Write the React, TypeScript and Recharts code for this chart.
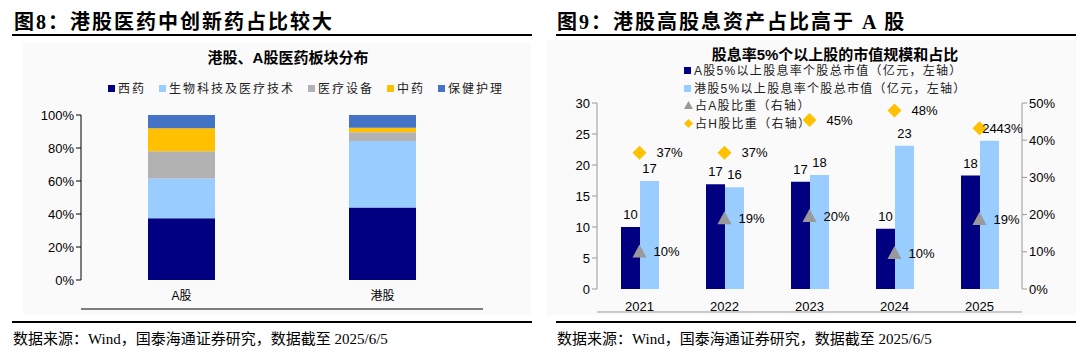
import {
  BarChart,
  ComposedChart,
  Bar,
  Line,
  XAxis,
  YAxis,
  LabelList,
} from "recharts";

// ---- left chart data (图8) ----
const leftCategories = ["A股", "港股"];
const xiYao = [37.5, 44.0];
const bioTech = [24.0, 40.2];
const equipment = [16.6, 5.3];
const tcm = [13.8, 2.8];
const healthCare = [8.1, 7.7];
const leftTicks = [0, 20, 40, 60, 80, 100];

// ---- right chart data (图9) ----
const years = ["2021", "2022", "2023", "2024", "2025"];
const aMarketValue = [10.0, 16.9, 17.3, 9.7, 18.3];
const hMarketValue = [17.4, 16.4, 18.4, 23.1, 23.9];
const aRatio = [10.1, 19.0, 19.6, 9.7, 18.8];
const hRatio = [36.6, 36.6, 45.4, 48.0, 43.2];
const leftAxisTicks = [0, 5, 10, 15, 20, 25, 30];
const rightAxisTicks = [0, 10, 20, 30, 40, 50];

const SANS = "'Liberation Sans', Arial, 'Noto Sans CJK SC', sans-serif";
const CJK = "'Noto Sans CJK SC', sans-serif";
const SERIF = "'Liberation Serif', 'Noto Sans CJK SC', serif";

const leftSeries = [
  { key: "西药", values: xiYao, color: "#000080" },
  { key: "生物科技及医疗技术", values: bioTech, color: "#99CCFF" },
  { key: "医疗设备", values: equipment, color: "#B2B2B2" },
  { key: "中药", values: tcm, color: "#FFC000" },
  { key: "保健护理", values: healthCare, color: "#4472C4" },
];

const leftData = leftCategories.map((name, i) => {
  const row: { [k: string]: string | number } = { name };
  leftSeries.forEach((s) => (row[s.key] = s.values[i]));
  return row;
});

const rightData = years.map((year, i) => ({
  year,
  a: aMarketValue[i],
  h: hMarketValue[i],
  aRatio: aRatio[i],
  hRatio: hRatio[i],
}));

// boundary tick positions (between categories)
const leftEdges = leftCategories.map((_, i) => i).concat(leftCategories.length);
const rightEdges = years.map((_, i) => i).concat(years.length);

// marker shapes
const TriangleDot = (props: any) => {
  const { cx, cy } = props;
  if (cx == null || cy == null) return null;
  return (
    <polygon
      points={`${cx},${cy - 7} ${cx - 7},${cy + 6} ${cx + 7},${cy + 6}`}
      fill="#999999"
    />
  );
};

const DiamondDot = (props: any) => {
  const { cx, cy } = props;
  if (cx == null || cy == null) return null;
  return (
    <polygon
      points={`${cx},${cy - 7} ${cx + 7},${cy} ${cx},${cy + 7} ${cx - 7},${cy}`}
      fill="#FFC000"
    />
  );
};

const pct = (v: any) => `${Math.round(Number(v))}%`;

function Header({ x, text }: { x: number; text: string }) {
  return (
    <div
      style={{
        position: "absolute",
        left: x,
        top: 6,
        fontFamily: SERIF,
        fontWeight: 700,
        fontSize: 20,
        letterSpacing: 2,
        color: "#000",
        whiteSpace: "nowrap",
      }}
    >
      {text}
    </div>
  );
}

function Rule({ x, y, w }: { x: number; y: number; w: number }) {
  return (
    <div
      style={{
        position: "absolute",
        left: x,
        top: y,
        width: w,
        height: 2,
        background: "#000",
      }}
    />
  );
}

function Source({ x }: { x: number }) {
  return (
    <div
      style={{
        position: "absolute",
        left: x,
        top: 327,
        fontFamily: SERIF,
        fontSize: 15,
        color: "#000",
        whiteSpace: "nowrap",
      }}
    >
      数据来源：Wind，国泰海通证券研究，数据截至 2025/6/5
    </div>
  );
}

function LegendSwatch({ color }: { color: string }) {
  return (
    <span
      style={{
        display: "inline-block",
        width: 7,
        height: 7,
        background: color,
        marginRight: 3,
        verticalAlign: "middle",
        position: "relative",
        top: -1,
      }}
    />
  );
}

export default function App() {
  return (
    <div
      style={{
        position: "absolute",
        left: 0,
        top: 0,
        width: 1080,
        height: 352,
        background: "#fff",
        overflow: "hidden",
      }}
    >
      {/* ---------- left panel ---------- */}
      <Header x={14} text="图8：港股医药中创新药占比较大" />
      <Rule x={12} y={34} w={520} />
      <div
        style={{
          position: "absolute",
          left: 23,
          top: 43,
          width: 508,
          height: 272,
          background: "#fafafa",
        }}
      />
      <div
        style={{
          position: "absolute",
          left: 188,
          top: 46,
          width: 200,
          textAlign: "center",
          fontFamily: SANS,
          fontWeight: 700,
          fontSize: 15,
          color: "#000",
        }}
      >
        港股、A股医药板块分布
      </div>
      <div
        style={{
          position: "absolute",
          left: 108,
          top: 79,
          fontFamily: CJK,
          fontSize: 12,
          letterSpacing: 2,
          color: "#222",
          whiteSpace: "nowrap",
          display: "flex",
          gap: 13,
        }}
      >
        {leftSeries.map((s) => (
          <span key={s.key}>
            <LegendSwatch color={s.color} />
            {s.key}
          </span>
        ))}
      </div>
      <div style={{ position: "absolute", left: 12, top: 40 }}>
        <BarChart
          width={520}
          height={275}
          data={leftData}
          margin={{ top: 75, right: 49, left: 19, bottom: 5 }}
          barSize={67}
        >
          <XAxis
            xAxisId="edges"
            type="number"
            dataKey="edge"
            domain={[0, leftCategories.length]}
            ticks={leftEdges}
            tick={false}
            tickLine={{ stroke: "#000" }}
            tickSize={5}
            axisLine={{ stroke: "#000" }}
            height={1}
          />
          <XAxis
            dataKey="name"
            axisLine={false}
            tickLine={false}
            tickMargin={5}
            height={29}
            tick={{ fontSize: 12, fill: "#000", fontFamily: SANS }}
          />
          <YAxis
            domain={[0, 100]}
            ticks={leftTicks}
            tickFormatter={(v) => `${v}%`}
            width={50}
            axisLine={{ stroke: "#000" }}
            tickLine={{ stroke: "#000" }}
            tickSize={5}
            tick={{ fontSize: 13, fill: "#000", fontFamily: SANS }}
          />
          {leftSeries.map((s) => (
            <Bar
              key={s.key}
              dataKey={s.key}
              stackId="a"
              fill={s.color}
              isAnimationActive={false}
            />
          ))}
        </BarChart>
      </div>
      <Rule x={12} y={321} w={520} />
      <Source x={13} />

      {/* ---------- right panel ---------- */}
      <Header x={557} text="图9：港股高股息资产占比高于 A 股" />
      <Rule x={556} y={34} w={520} />
      <div
        style={{
          position: "absolute",
          left: 546,
          top: 40,
          width: 530,
          height: 275,
          background: "#fafafa",
        }}
      />
      <div
        style={{
          position: "absolute",
          left: 685,
          top: 43,
          width: 300,
          textAlign: "center",
          fontFamily: SANS,
          fontWeight: 700,
          fontSize: 15,
          color: "#000",
        }}
      >
        股息率5%个以上股的市值规模和占比
      </div>
      <div
        style={{
          position: "absolute",
          left: 684,
          top: 63,
          fontFamily: SANS,
          fontSize: 12,
          letterSpacing: 1.3,
          lineHeight: "17.5px",
          color: "#222",
          whiteSpace: "nowrap",
        }}
      >
        <div>
          <LegendSwatch color="#000080" />
          A股5%以上股息率个股总市值（亿元，左轴）
        </div>
        <div>
          <LegendSwatch color="#99CCFF" />
          港股5%以上股息率个股总市值（亿元，左轴）
        </div>
        <div>
          <svg width={9} height={9} style={{ marginRight: 2 }}>
            <polygon points="4.5,0 0,8 9,8" fill="#999999" />
          </svg>
          占A股比重（右轴）
        </div>
        <div>
          <svg width={9} height={9} style={{ marginRight: 2 }}>
            <polygon points="4.5,0 9,4.5 4.5,9 0,4.5" fill="#FFC000" />
          </svg>
          占H股比重（右轴）
        </div>
      </div>
      <div style={{ position: "absolute", left: 556, top: 40 }}>
        <ComposedChart
          width={520}
          height={275}
          data={rightData}
          margin={{ top: 63, right: 4, left: 6, bottom: 2 }}
          barGap={0}
          barCategoryGap={23}
        >
          <XAxis
            xAxisId="edges"
            type="number"
            dataKey="edge"
            domain={[0, years.length]}
            ticks={rightEdges}
            tick={false}
            tickLine={{ stroke: "#999" }}
            tickSize={5}
            axisLine={{ stroke: "#999" }}
            height={1}
          />
          <XAxis
            dataKey="year"
            axisLine={false}
            tickLine={false}
            tickMargin={7}
            height={23}
            tick={{ fontSize: 13, fill: "#000", fontFamily: SANS }}
          />
          <YAxis
            yAxisId="left"
            domain={[0, 30]}
            ticks={leftAxisTicks}
            width={35}
            axisLine={{ stroke: "#999" }}
            tickLine={{ stroke: "#999" }}
            tickSize={5}
            tick={{ fontSize: 13, fill: "#000", fontFamily: SANS }}
          />
          <YAxis
            yAxisId="right"
            orientation="right"
            domain={[0, 50]}
            ticks={rightAxisTicks}
            tickFormatter={(v) => `${v}%`}
            width={50}
            axisLine={{ stroke: "#999" }}
            tickLine={{ stroke: "#999" }}
            tickSize={5}
            tick={{ fontSize: 13, fill: "#000", fontFamily: SANS }}
          />
          <Bar
            yAxisId="left"
            dataKey="a"
            fill="#000080"
            barSize={19}
            isAnimationActive={false}
          >
            <LabelList
              dataKey="a"
              position="top"
              offset={8}
              formatter={(v: any) => Math.round(Number(v))}
              style={{ fontSize: 13, fill: "#000", fontFamily: SANS }}
            />
          </Bar>
          <Bar
            yAxisId="left"
            dataKey="h"
            fill="#99CCFF"
            barSize={19}
            isAnimationActive={false}
          >
            <LabelList
              dataKey="h"
              position="top"
              offset={8}
              formatter={(v: any) => Math.round(Number(v))}
              style={{ fontSize: 13, fill: "#000", fontFamily: SANS }}
            />
          </Bar>
          <Line
            yAxisId="right"
            dataKey="aRatio"
            stroke="none"
            dot={<TriangleDot />}
            activeDot={false}
            isAnimationActive={false}
          >
            <LabelList
              dataKey="aRatio"
              position="right"
              offset={14}
              formatter={pct}
              style={{ fontSize: 13, fill: "#000", fontFamily: SANS }}
            />
          </Line>
          <Line
            yAxisId="right"
            dataKey="hRatio"
            stroke="none"
            dot={<DiamondDot />}
            activeDot={false}
            isAnimationActive={false}
          >
            <LabelList
              dataKey="hRatio"
              position="right"
              offset={17}
              formatter={pct}
              style={{ fontSize: 13, fill: "#000", fontFamily: SANS }}
            />
          </Line>
        </ComposedChart>
      </div>
      <Rule x={556} y={321} w={520} />
      <Source x={557} />
    </div>
  );
}
